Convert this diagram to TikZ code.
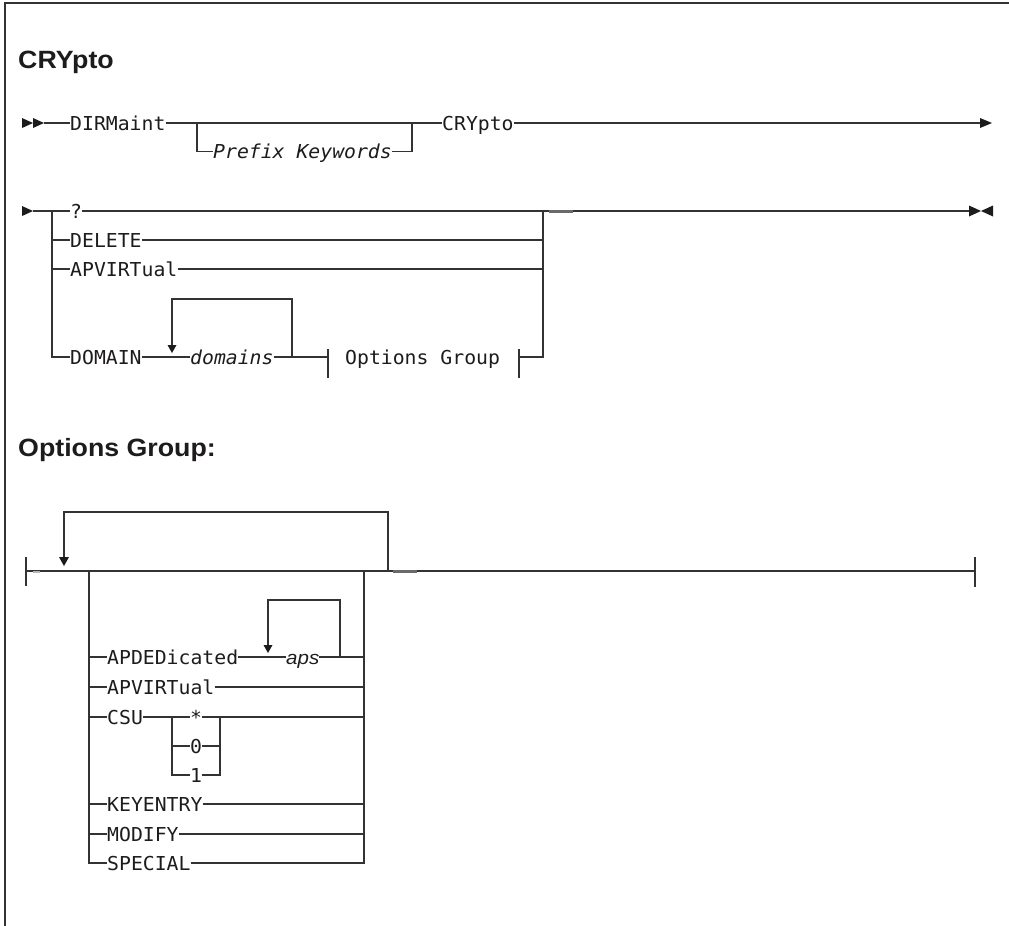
\documentclass[tikz,border=0pt]{standalone}
\usepackage{fontspec}
\newfontfamily\monofam[FakeStretch=1.03]{DejaVu Sans Mono}
\newfontfamily\headfam[FakeStretch=1.07]{Liberation Sans}
\newfontfamily\sansfam[FakeStretch=1.08]{Liberation Sans}
\definecolor{ink}{HTML}{1E1B1C}
\definecolor{rail}{HTML}{333333}
\definecolor{dashgray}{HTML}{6A6A6A}
\tikzset{
  rr/.style={draw=rail, line width=1.2pt},
  lab/.style={inner sep=0pt, anchor=west, text height=14pt, text depth=0pt, text=ink,
    font=\monofam\fontsize{19.2pt}{22pt}\selectfont},
  labit/.style={lab, font=\monofam\itshape\fontsize{19.2pt}{22pt}\selectfont},
  labsans/.style={lab, font=\sansfam\itshape\fontsize{19pt}{22pt}\selectfont},
  heading/.style={inner sep=0pt, anchor=base west, text=ink,
    font=\headfam\bfseries\fontsize{25pt}{28pt}\selectfont},
  tip/.style={fill=ink},
  blip/.style={draw=dashgray, line width=2.2pt}
}
\begin{document}
\begin{tikzpicture}[x=1pt,y=-1pt]
\useasboundingbox (0,0) rectangle (1009,926);
% frame
\draw[rr, line width=1.5pt] (5,926) -- (5,3) -- (1009,3);

% headings
\node[heading] (h1) at (18,68) {CRYpto};
\node[heading] (h2) at (18,456) {Options Group:};

% ---------------- row 1 ----------------
\fill[tip] (22,118) -- (33,123) -- (22,128) -- cycle;
\fill[tip] (33,118) -- (44,123) -- (33,128) -- cycle;
\coordinate (s1) at (44,123);
\node[lab] (dirm) at (70,123) {DIRMaint};
\coordinate (j1) at (197,123);
\coordinate (j2) at (412,123);
\node[labit] (pk) at (213,151.5) {Prefix Keywords};
\node[lab] (cry) at (442,123) {CRYpto};
\coordinate (e1) at (980,123);
\draw[rr] (s1) -- (dirm.west);
\draw[rr] (dirm.east) -- (j1) -- (j2) -- (cry.west);
\draw[rr] (j1) |- (pk.west);
\draw[rr] (pk.east) -| (j2);
\draw[rr] (cry.east) -- (e1);
\fill[tip] (980,118) -- (992,123) -- (980,128) -- cycle;

% ---------------- row 2 ----------------
\fill[tip] (22,206) -- (33,211) -- (22,216) -- cycle;
\coordinate (s2) at (33,211);
\coordinate (lv) at (52,211);
\coordinate (rv) at (543,211);
\coordinate (e2) at (969,211);
\node[lab] (q) at (70,211) {?};
\node[lab] (del) at (70,240) {DELETE};
\node[lab] (apv) at (70,269) {APVIRTual};
\node[lab] (dom) at (70,357) {DOMAIN};
\node[labit] (doms) at (190,357) {domains};
\node[lab] (og) at (345,357) {Options Group};
\coordinate (ogl) at (328,357);
\coordinate (ogr) at (519,357);
\draw[rr] (s2) -- (q.west);
\draw[rr] (q.east) -- (rv) -- (e2);
\draw[rr] (lv) |- (dom.west);
\draw[rr] (52,240) -- (del.west);
\draw[rr] (52,269) -- (apv.west);
\draw[rr] (del.east) -- (543,240);
\draw[rr] (apv.east) -- (543,269);
\draw[rr] (rv) |- (ogr);
\draw[rr] (dom.east) -- (doms.west);
\draw[rr] (doms.east) -- (ogl);
\draw[rr] (ogl) ++(0,-8) -- ++(0,29);
\draw[rr] (ogr) ++(0,-8) -- ++(0,29);
\draw[rr] (292,357) -- (292,299) -- (172,299) -- (172,346);
\fill[tip] (167.5,345) -- (176.5,345) -- (172,353) -- cycle;
\draw[blip] (549,211.5) -- (573,211.5);
\fill[tip] (969,205.5) -- (981,211) -- (969,216.5) -- cycle;
\fill[tip] (993,205.5) -- (981,211) -- (993,216.5) -- cycle;

% ---------------- options group ----------------
\coordinate (gs) at (26,571);
\coordinate (ge) at (975,571);
\draw[rr] (26,557) -- (26,586);
\draw[rr] (gs) -- (ge);
\draw[rr] (975,557) -- (975,587);
\draw[rr] (388,571) -- (388,512) -- (64,512) -- (64,558);
\fill[tip] (59,557) -- (69,557) -- (64,566) -- cycle;
\draw[blip] (393,571.5) -- (417,571.5);
\draw[draw=dashgray!50, line width=2pt] (33,571.5) -- (40,571.5);

\node[lab] (apd) at (107,657) {APDEDicated};
\node[labsans] (aps) at (286,657) {aps};
\node[lab] (apv2) at (107,687) {APVIRTual};
\node[lab] (csu) at (107,717) {CSU};
\node[lab] (star) at (190,717) {*};
\node[lab] (zero) at (190,746) {0};
\node[lab] (one) at (190,775) {1};
\node[lab] (key) at (107,804) {KEYENTRY};
\node[lab] (mod) at (107,834) {MODIFY};
\node[lab] (spc) at (107,863) {SPECIAL};

\draw[rr] (89,571) |- (spc.west);
\draw[rr] (spc.east) -| (364,571);
\draw[rr] (89,657) -- (apd.west);
\draw[rr] (89,687) -- (apv2.west);
\draw[rr] (89,717) -- (csu.west);
\draw[rr] (89,804) -- (key.west);
\draw[rr] (89,834) -- (mod.west);
\draw[rr] (apd.east) -- (aps.west);
\draw[rr] (aps.east) -- (364,657);
\draw[rr] (340,657) -- (340,600) -- (268,600) -- (268,646);
\fill[tip] (263.5,645) -- (272.5,645) -- (268,653) -- cycle;
\draw[rr] (apv2.east) -- (364,687);
\draw[rr] (csu.east) -- (172,717) -- (star.west);
\draw[rr] (172,717) |- (one.west);
\draw[rr] (172,746) -- (zero.west);
\draw[rr] (star.east) -- (364,717);
\draw[rr] (one.east) -| (220,717);
\draw[rr] (zero.east) -- (220,746);
\draw[rr] (key.east) -- (364,804);
\draw[rr] (mod.east) -- (364,834);
\end{tikzpicture}
\end{document}
